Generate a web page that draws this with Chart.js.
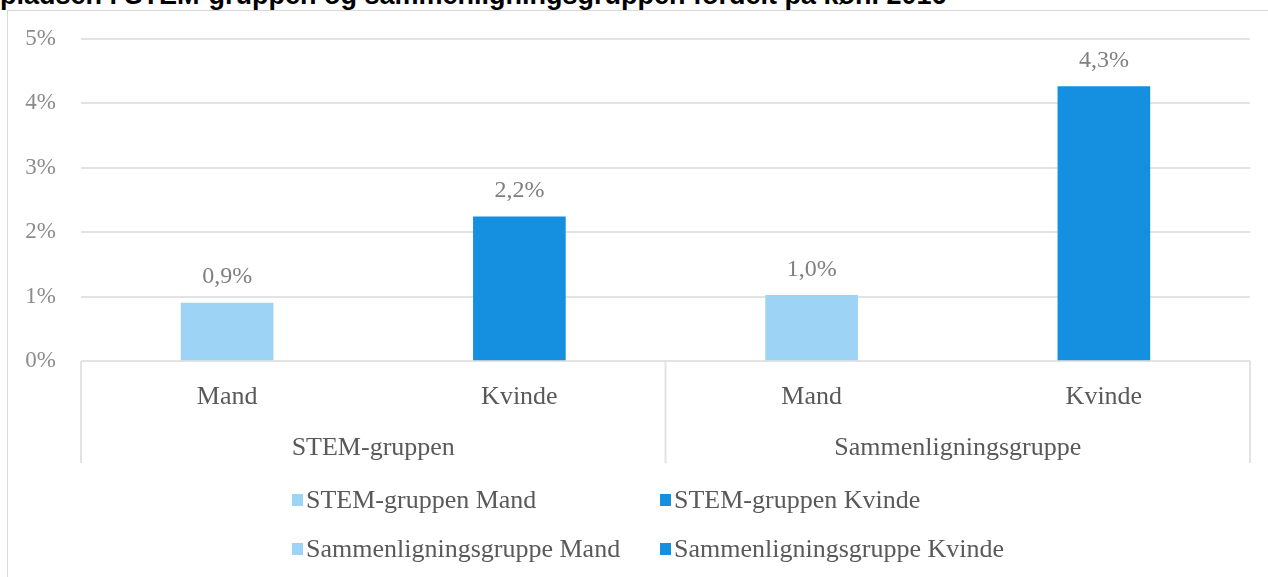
<!DOCTYPE html>
<html>
<head>
<meta charset="utf-8">
<script src="https://cdn.jsdelivr.net/npm/chart.js@4.4.1/dist/chart.umd.min.js"></script>
<style>
  html, body { margin: 0; padding: 0; background: #fff; overflow: hidden; }
  #wrap { position: relative; width: 1268px; height: 577px; overflow: hidden; }
  #title {
    position: absolute; left: 0; top: -18px; white-space: nowrap;
    font-family: "Liberation Sans", Arial, sans-serif; font-weight: bold;
    font-size: 27px; line-height: 27px; color: #000;
  }
  #frame {
    position: absolute; left: 7px; top: 10px; width: 1300px; height: 600px;
    border-left: 1px solid #d9d9d9; border-top: 1px solid #d9d9d9;
  }
  #myChart { position: absolute; left: 0; top: 0; }
  #legend {
    position: absolute; left: 292px; top: 484px;
    display: grid; grid-template-columns: 368px auto; row-gap: 17px;
    font-family: "Liberation Serif", serif; font-size: 26px; color: #595959;
  }
  #legend .item { display: flex; align-items: center; height: 32px; white-space: nowrap; }
  #legend .box { width: 11px; height: 12px; margin-right: 3px; }
</style>
</head>
<body>
<div id="wrap">
  <div id="frame"></div>
  <div id="title">pladsen i STEM-gruppen og sammenligningsgruppen fordelt på køn. 2016</div>
  <canvas id="myChart" width="1268" height="577"></canvas>
  <div id="legend"></div>
</div>
<script>
// categories along the x axis and their groups
const categories = ["Mand", "Kvinde", "Mand", "Kvinde"];
const groups = ["STEM-gruppen", "Sammenligningsgruppe"];
const seriesNames = [
  "STEM-gruppen Mand",
  "STEM-gruppen Kvinde",
  "Sammenligningsgruppe Mand",
  "Sammenligningsgruppe Kvinde"
];
// share in percent, one value per series
const values = [0.9, 2.24, 1.02, 4.26];
const seriesColors = ["#9dd3f5", "#1590e0", "#9dd3f5", "#1590e0"];
const yTicks = [0, 1, 2, 3, 4, 5];

const serif = "'Liberation Serif', serif";
const gridColor = "#e3e3e3";

function fmt(v) {
  return v.toFixed(1).replace(".", ",") + "%";
}

// each series only has a value at its own category
const datasets = seriesNames.map(function (name, i) {
  return {
    label: name,
    data: categories.map(function (_, j) { return j === i ? values[i] : null; }),
    backgroundColor: seriesColors[i],
    borderWidth: 0,
    barThickness: 92
  };
});

// value labels above the bars
const valueLabels = {
  id: "valueLabels",
  afterDatasetsDraw(chart) {
    const ctx = chart.ctx;
    ctx.save();
    ctx.font = "24px " + serif;
    ctx.fillStyle = "#7f7f7f";
    ctx.textAlign = "center";
    ctx.textBaseline = "middle";
    chart.data.datasets.forEach(function (ds, i) {
      const meta = chart.getDatasetMeta(i);
      meta.data.forEach(function (bar, j) {
        if (ds.data[j] == null) return;
        ctx.fillText(fmt(ds.data[j]), bar.x, bar.y - 26);
      });
    });
    ctx.restore();
  }
};

// second level of the category axis: group names and separators
const groupAxis = {
  id: "groupAxis",
  afterDraw(chart) {
    const ctx = chart.ctx;
    const x = chart.scales.x;
    const area = chart.chartArea;
    const mid = (x.getPixelForValue(1) + x.getPixelForValue(2)) / 2;
    ctx.save();
    ctx.strokeStyle = gridColor;
    ctx.lineWidth = 2;
    [area.left, mid, area.right].forEach(function (px) {
      ctx.beginPath();
      ctx.moveTo(px, area.bottom);
      ctx.lineTo(px, area.bottom + 102);
      ctx.stroke();
    });
    ctx.font = "26px " + serif;
    ctx.fillStyle = "#595959";
    ctx.textAlign = "center";
    ctx.textBaseline = "middle";
    groups.forEach(function (g, k) {
      const cx = (x.getPixelForValue(k * 2) + x.getPixelForValue(k * 2 + 1)) / 2;
      ctx.fillText(g, cx, area.bottom + 87);
    });
    ctx.restore();
  }
};

const ctx = document.getElementById("myChart").getContext("2d");
const myChart = new Chart(ctx, {
  type: "bar",
  data: { labels: categories, datasets: datasets },
  plugins: [valueLabels, groupAxis],
  options: {
    responsive: false,
    animation: false,
    skipNull: true,
    layout: { padding: { top: 39, right: 18, left: 0, bottom: 0 } },
    plugins: {
      legend: { display: false },
      tooltip: { enabled: false }
    },
    scales: {
      x: {
        grid: { display: false },
        border: { display: false },
        ticks: {
          color: "#595959",
          font: { family: serif, size: 26 },
          padding: 13,
          maxRotation: 0
        },
        afterFit(scale) { scale.height = 216; }
      },
      y: {
        min: 0,
        max: 5,
        afterBuildTicks(scale) {
          scale.ticks = yTicks.map(function (v) { return { value: v }; });
        },
        grid: { color: gridColor, lineWidth: 2, drawTicks: false },
        border: { display: false },
        ticks: {
          color: "#8c8c8c",
          font: { family: serif, size: 23 },
          padding: 25,
          callback: function (v) { return v + "%"; }
        },
        afterFit(scale) { scale.width = 81; }
      }
    }
  }
});

// legend laid out as a two column grid, like the original
const legendEl = document.getElementById("legend");
myChart.data.datasets.forEach(function (ds) {
  const item = document.createElement("div");
  item.className = "item";
  const box = document.createElement("span");
  box.className = "box";
  box.style.background = ds.backgroundColor;
  item.appendChild(box);
  item.appendChild(document.createTextNode(ds.label));
  legendEl.appendChild(item);
});
</script>
</body>
</html>
